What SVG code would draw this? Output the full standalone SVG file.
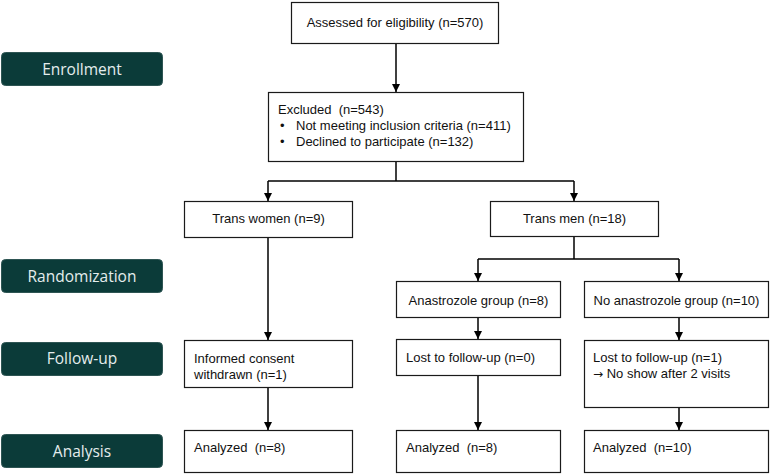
<svg xmlns="http://www.w3.org/2000/svg" width="777" height="474" viewBox="0 0 777 474">
<style>
.lab rect{fill:#0b3b39;stroke:#2e5553;stroke-width:1}
.lab text{fill:#e4eded;font-family:"Open Sans","Noto Sans",sans-serif;font-size:15.5px;text-anchor:middle}
.box rect{fill:#fff;stroke:#1a1a1a;stroke-width:1.2}
.box text{fill:#111;font-family:"Liberation Sans",Arial,sans-serif;font-size:13px;white-space:pre}
.c{text-anchor:middle}
.arr{font-family:"DejaVu Sans",sans-serif;font-size:12px}
.conn path{fill:none;stroke:#000;stroke-width:1.5}
</style>
<defs>
<marker id="ah" viewBox="0 0 10 10" refX="10" refY="5" markerWidth="8" markerHeight="8" markerUnits="userSpaceOnUse" orient="auto">
<path d="M0,0 L10,5 L0,10 z" fill="#000"/>
</marker>
</defs>
<rect width="777" height="474" fill="#fff"/>
<g id="lab-enrollment" class="lab"><rect x="1.5" y="52.5" width="161" height="33" rx="4"/><text x="82" y="75">Enrollment</text></g>
<g id="lab-randomization" class="lab"><rect x="1.5" y="259.5" width="161" height="33" rx="4"/><text x="82" y="282">Randomization</text></g>
<g id="lab-followup" class="lab"><rect x="1.5" y="342.5" width="161" height="33" rx="4"/><text x="82" y="364">Follow-up</text></g>
<g id="lab-analysis" class="lab"><rect x="1.5" y="434.5" width="161" height="33" rx="4"/><text x="82" y="457">Analysis</text></g>

<g id="assessed" class="box"><rect x="291.5" y="2.5" width="207" height="41"/><text class="c" x="395" y="27">Assessed for eligibility (n=570)</text></g>
<g id="excluded" class="box"><rect x="268.5" y="92.5" width="255" height="69"/>
<text x="278" y="114" xml:space="preserve">Excluded  (n=543)</text>
<text x="280" y="130">•</text><text x="296" y="130">Not meeting inclusion criteria (n=411)</text>
<text x="280" y="146">•</text><text x="296" y="146">Declined to participate (n=132)</text></g>
<g id="transwomen" class="box"><rect x="184.5" y="201.5" width="168" height="36"/><text class="c" x="268.5" y="223">Trans women (n=9)</text></g>
<g id="transmen" class="box"><rect x="490.5" y="201.5" width="168" height="35"/><text class="c" x="574.5" y="223">Trans men (n=18)</text></g>
<g id="anastrozole" class="box"><rect x="396.5" y="281.5" width="164" height="36"/><text class="c" x="478.5" y="305">Anastrozole group (n=8)</text></g>
<g id="noanastrozole" class="box"><rect x="584.5" y="281.5" width="184" height="36"/><text class="c" x="676.5" y="305">No anastrozole group (n=10)</text></g>
<g id="consent" class="box"><rect x="184.5" y="340.5" width="168" height="47"/><text x="194" y="363">Informed consent</text><text x="194" y="379">withdrawn (n=1)</text></g>
<g id="lost0" class="box"><rect x="396.5" y="339.5" width="164" height="36"/><text x="406" y="362">Lost to follow-up (n=0)</text></g>
<g id="lost1" class="box"><rect x="584.5" y="340.5" width="184" height="67"/><text x="593" y="362">Lost to follow-up (n=1)</text><text x="593" y="378" xml:space="preserve"><tspan class="arr">→</tspan> No show after 2 visits</text></g>
<g id="analyzed-women" class="box"><rect x="184.5" y="430.5" width="168" height="42"/><text x="194" y="452" xml:space="preserve">Analyzed  (n=8)</text></g>
<g id="analyzed-ana" class="box"><rect x="396.5" y="430.5" width="164" height="42"/><text x="406" y="452" xml:space="preserve">Analyzed  (n=8)</text></g>
<g id="analyzed-noana" class="box"><rect x="584.5" y="430.5" width="184" height="42"/><text x="593" y="452" xml:space="preserve">Analyzed  (n=10)</text></g>

<g id="connectors" class="conn">
<path d="M396,44 V92" marker-end="url(#ah)"/>
<path d="M396,162 V181"/>
<path d="M268,181 H574"/>
<path d="M268,181 V201" marker-end="url(#ah)"/>
<path d="M574,181 V201" marker-end="url(#ah)"/>
<path d="M268,238 V340" marker-end="url(#ah)"/>
<path d="M574,237 V259"/>
<path d="M478,259 H679"/>
<path d="M478,259 V281" marker-end="url(#ah)"/>
<path d="M679,259 V281" marker-end="url(#ah)"/>
<path d="M478,318 V339" marker-end="url(#ah)"/>
<path d="M679,318 V340" marker-end="url(#ah)"/>
<path d="M268,388 V430" marker-end="url(#ah)"/>
<path d="M478,376 V430" marker-end="url(#ah)"/>
<path d="M679,408 V430" marker-end="url(#ah)"/>
</g>
</svg>
